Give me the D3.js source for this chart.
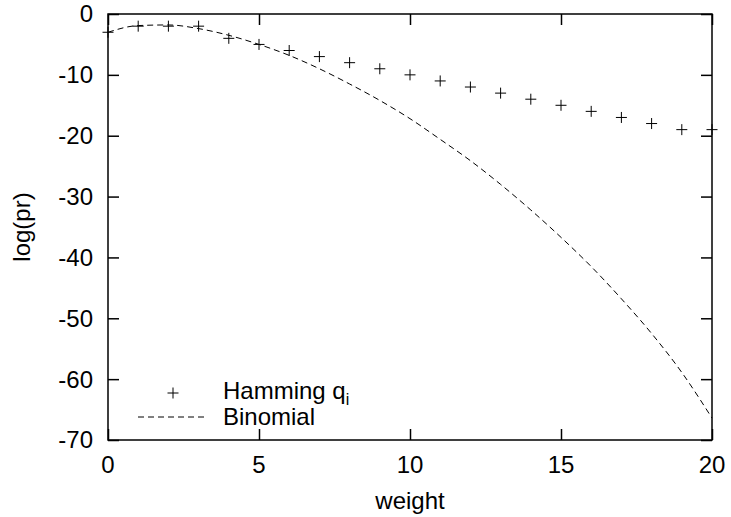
<!DOCTYPE html>
<html>
<head>
<meta charset="utf-8">
<script src="https://cdn.jsdelivr.net/npm/d3@7"></script>
<style>
  body { margin: 0; background: #fff; }
  text { font-family: "Liberation Sans", Arial, sans-serif; fill: #000; }
</style>
</head>
<body>
<svg id="chart"></svg>
<script>
// weights 0..20
const weights = d3.range(0, 21);
// Hamming q_i markers (log scale values)
const hammingValues = [-3, -2, -2, -2, -4, -5, -6, -7, -8, -9, -10,
                       -11, -12, -13, -14, -15, -16, -17, -18, -19, -19];
// Binomial curve values at each weight
const binomialValues = [-3.0, -1.9, -1.8, -2.4, -3.5, -5.0, -6.8, -9.0, -11.5, -14.2, -17.2,
                        -20.6, -24.1, -28.0, -32.2, -36.7, -41.5, -46.8, -52.5, -58.9, -66.4];
const xTicks = [0, 5, 10, 15, 20];
const yTicks = [0, -10, -20, -30, -40, -50, -60, -70];

class LogPrChart {
  constructor(_config) {
    this.config = {
      parentElement: _config.parentElement,
      containerWidth: _config.containerWidth || 731,
      containerHeight: _config.containerHeight || 517,
      margin: _config.margin || {top: 14, right: 19, bottom: 77, left: 108}
    };
    this.initVis();
  }

  initVis() {
    let vis = this;
    vis.width = vis.config.containerWidth - vis.config.margin.left - vis.config.margin.right;
    vis.height = vis.config.containerHeight - vis.config.margin.top - vis.config.margin.bottom;

    vis.xScale = d3.scaleLinear().domain([0, 20]).range([0, vis.width]);
    vis.yScale = d3.scaleLinear().domain([-70, 0]).range([vis.height, 0]);

    vis.svg = d3.select(vis.config.parentElement)
        .attr('width', vis.config.containerWidth)
        .attr('height', vis.config.containerHeight);

    vis.chart = vis.svg.append('g')
        .attr('transform', `translate(${vis.config.margin.left},${vis.config.margin.top})`);

    vis.renderVis();
  }

  renderVis() {
    let vis = this;
    const tickLen = 11;

    // inward ticks on all four sides, labels drawn separately
    const axes = [
      {axis: d3.axisBottom(vis.xScale).tickValues(xTicks).tickSizeInner(-tickLen), t: `translate(0,${vis.height})`},
      {axis: d3.axisTop(vis.xScale).tickValues(xTicks).tickSizeInner(-tickLen), t: 'translate(0,0)'},
      {axis: d3.axisLeft(vis.yScale).tickValues(yTicks).tickSizeInner(-tickLen), t: 'translate(0,0)'},
      {axis: d3.axisRight(vis.yScale).tickValues(yTicks).tickSizeInner(-tickLen), t: `translate(${vis.width},0)`}
    ];
    axes.forEach(a => {
      const g = vis.chart.append('g').attr('transform', a.t)
          .call(a.axis.tickSizeOuter(0).tickFormat(''));
      g.select('.domain').remove();
      g.selectAll('line').attr('stroke', '#000').attr('stroke-width', 1.5);
    });

    // frame
    vis.chart.append('rect')
        .attr('width', vis.width)
        .attr('height', vis.height)
        .attr('fill', 'none')
        .attr('stroke', '#000')
        .attr('stroke-width', 1.5);

    // tick labels
    vis.chart.selectAll('.x-label')
        .data(xTicks)
        .join('text')
        .attr('class', 'x-label')
        .attr('x', d => vis.xScale(d))
        .attr('y', vis.height + 33)
        .attr('text-anchor', 'middle')
        .style('font-size', '24px')
        .text(d => d);

    vis.chart.selectAll('.y-label')
        .data(yTicks)
        .join('text')
        .attr('class', 'y-label')
        .attr('x', -15)
        .attr('y', d => vis.yScale(d))
        .attr('dy', '0.35em')
        .attr('text-anchor', 'end')
        .style('font-size', '24px')
        .text(d => d);

    // axis titles
    vis.svg.append('text')
        .attr('x', vis.config.margin.left + vis.width / 2)
        .attr('y', 509)
        .attr('text-anchor', 'middle')
        .style('font-size', '24px')
        .text('weight');

    vis.svg.append('text')
        .attr('transform', `translate(30,${vis.config.margin.top + vis.height / 2}) rotate(-90)`)
        .attr('text-anchor', 'middle')
        .style('font-size', '24px')
        .text('log(pr)');

    // binomial dashed curve
    const line = d3.line()
        .x((d, i) => vis.xScale(weights[i]))
        .y(d => vis.yScale(d))
        .curve(d3.curveMonotoneX);

    vis.chart.append('path')
        .datum(binomialValues)
        .attr('fill', 'none')
        .attr('stroke', '#000')
        .attr('stroke-width', 1)
        .attr('stroke-dasharray', '6,4')
        .attr('d', line);

    // Hamming markers (+)
    const cross = d3.symbol().type(d3.symbolCross);
    const s = 5.5;
    vis.chart.selectAll('.mark')
        .data(hammingValues)
        .join('path')
        .attr('class', 'mark')
        .attr('transform', (d, i) => `translate(${vis.xScale(weights[i])},${vis.yScale(d)})`)
        .attr('d', `M${-s},0H${s}M0,${-s}V${s}`)
        .attr('stroke', '#000')
        .attr('stroke-width', 1);

    // legend
    const legend = vis.svg.append('g');
    legend.append('path')
        .attr('d', `M${173 - s},393H${173 + s}M173,${393 - s}V${393 + s}`)
        .attr('stroke', '#000')
        .attr('stroke-width', 1);
    const ham = legend.append('text')
        .attr('x', 223)
        .attr('y', 399)
        .style('font-size', '24px');
    ham.append('tspan').text('Hamming q');
    ham.append('tspan').attr('dy', 6).style('font-size', '16px').text('i');

    legend.append('line')
        .attr('x1', 138).attr('x2', 208)
        .attr('y1', 417).attr('y2', 417)
        .attr('stroke', '#000')
        .attr('stroke-width', 1)
        .attr('stroke-dasharray', '6,4');
    legend.append('text')
        .attr('x', 223)
        .attr('y', 425)
        .style('font-size', '24px')
        .text('Binomial');
  }
}

new LogPrChart({parentElement: '#chart'});
</script>
</body>
</html>
